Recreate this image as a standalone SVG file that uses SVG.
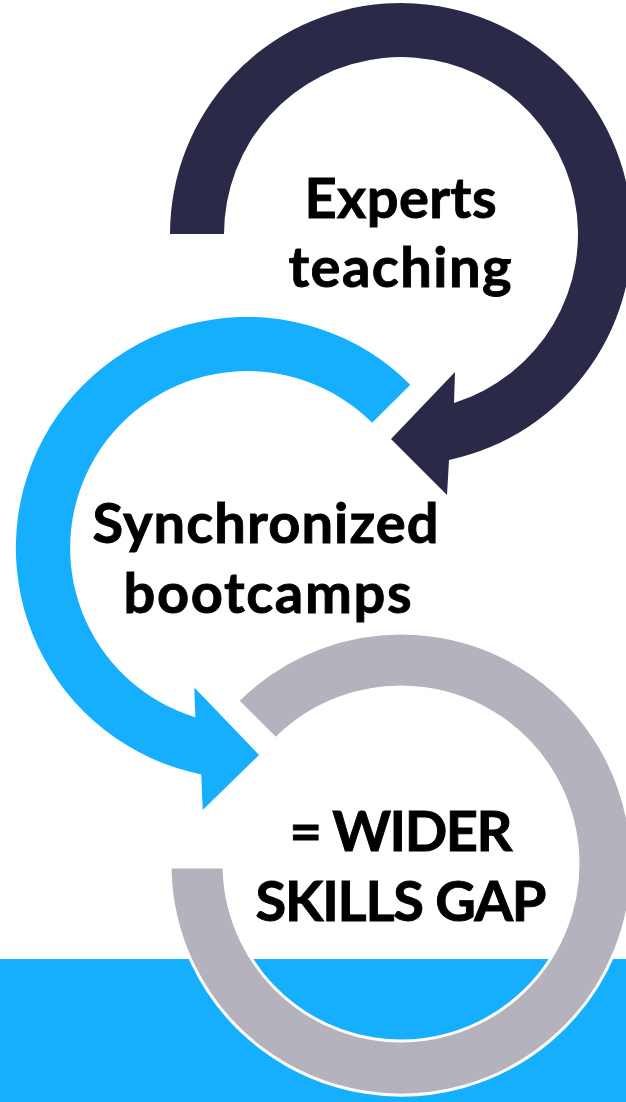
<svg xmlns="http://www.w3.org/2000/svg" width="626" height="1102" viewBox="0 0 626 1102">
<style>
.navy{fill:#2A2947}
.blue{fill:#16AFFE}
.gray{fill:#B4B3BD;stroke:#FFFFFF;stroke-width:3}
.lbl{font-family:Lato,"Open Sans","Liberation Sans",sans-serif;font-weight:700;font-size:56px;fill:#000000;stroke:#000000;stroke-width:0.9;text-anchor:middle}
</style>
<rect x="0" y="0" width="626" height="1102" fill="#FFFFFF"/>
<rect id="band" x="0" y="959" width="626" height="143" fill="#16AFFE"/>
<g id="connectors">
  <path id="arrow-experts" class="navy" d="M170,234 A231,231 0 1 1 449,460 L447,495 L391,439 L455,372 L454,403 A177,177 0 1 0 224,234 Z"/>
  <path id="arrow-bootcamps" class="blue" d="M410.3,384.7 A231,231 0 1 0 201.3,774.4 L202.7,810 L259,755 L194.3,687.5 L195.3,717.3 A177,177 0 1 1 372.2,422.8 Z"/>
  <path id="arc-gap" class="gray" d="M237.7,700.7 A231,231 0 1 1 170,867 L224,867 A177,177 0 1 0 275.8,738.8 Z"/>
</g>
<g id="node-experts">
  <text class="lbl" x="400.5" y="218" textLength="192" lengthAdjust="spacing">Experts</text>
  <text class="lbl" x="400" y="287" textLength="223" lengthAdjust="spacing">teaching</text>
</g>
<g id="node-bootcamps">
  <text class="lbl" x="265.5" y="543" textLength="346" lengthAdjust="spacing">Synchronized</text>
  <text class="lbl" x="267.5" y="613" textLength="288" lengthAdjust="spacing">bootcamps</text>
</g>
<g id="node-gap">
  <text class="lbl" x="401" y="851" textLength="223" lengthAdjust="spacing">= WIDER</text>
  <text class="lbl" x="401" y="921" textLength="291" lengthAdjust="spacing">SKILLS GAP</text>
</g>
</svg>
